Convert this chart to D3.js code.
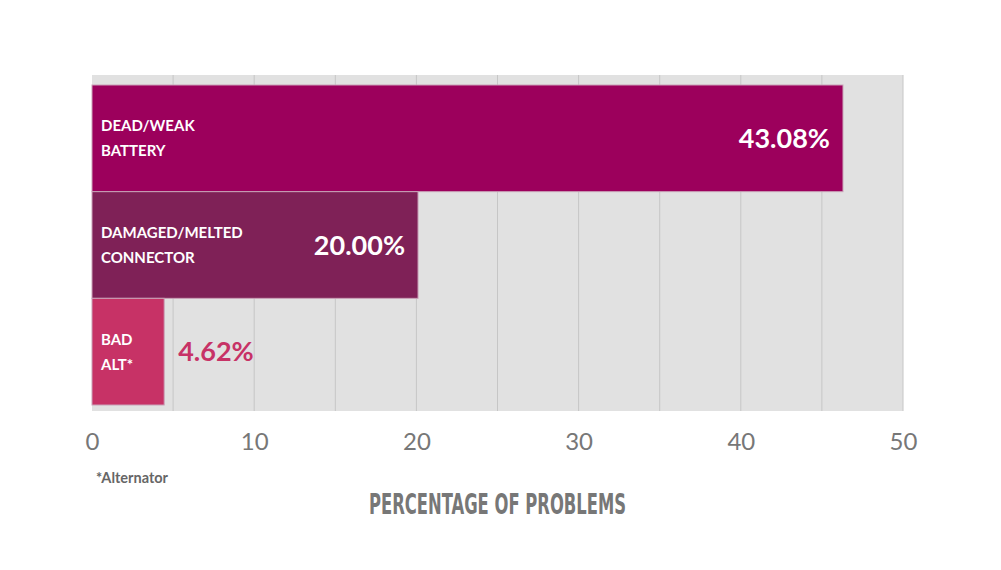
<!DOCTYPE html>
<html>
<head>
<meta charset="utf-8">
<script src="https://cdn.jsdelivr.net/npm/d3@7"></script>
<style>
  body { margin: 0; background: #fff; }
  svg { display: block; }
</style>
</head>
<body>
<div id="chart"></div>
<script>
// data
var categories = [['DEAD/WEAK', 'BATTERY'], ['DAMAGED/MELTED', 'CONNECTOR'], ['BAD', 'ALT*']]
var valueLabels = ['43.08%', '20.00%', '4.62%']
// drawn bar lengths as they sit on the axis
var barLengths = [46.3, 20.1, 4.45]
var barColors = ['#9c005c', '#7f2157', '#c73266']
var tickValues = [0, 10, 20, 30, 40, 50]
var gridValues = [5, 10, 15, 20, 25, 30, 35, 40, 45, 50]

var width = 1001, height = 570

var svg = d3.select('#chart')
  .append('svg')
  .attr('width', width)
  .attr('height', height)

var x = d3.scaleLinear().domain([0, 50]).range([92, 903])
var y = d3.scaleBand().domain(d3.range(categories.length)).range([85, 405]).padding(0)

var plotTop = 75, plotBottom = 411

// gray plot area
svg.append('rect')
  .attr('x', x(0))
  .attr('y', plotTop)
  .attr('width', x(50) - x(0))
  .attr('height', plotBottom - plotTop)
  .style('fill', '#e1e1e1')

// gridlines
svg.selectAll('line.grid')
  .data(gridValues)
  .enter()
  .append('line')
  .attr('class', 'grid')
  .attr('x1', d => x(d))
  .attr('x2', d => x(d))
  .attr('y1', plotTop)
  .attr('y2', plotBottom)
  .style('stroke', '#c6c6c6')
  .style('stroke-width', 1)

// bars
var g = svg.selectAll('g.bar')
  .data(barLengths)
  .enter()
  .append('g')
  .attr('class', 'bar')

g.append('rect')
  .attr('x', x(0))
  .attr('y', (d, i) => y(i))
  .attr('width', d => x(d) - x(0))
  .attr('height', y.bandwidth())
  .style('fill', (d, i) => barColors[i])
  .style('stroke', '#c9a2b8')
  .style('stroke-width', 1)

// category labels, two lines each
g.each(function(d, i) {
  var cy = y(i) + y.bandwidth() / 2
  var t = d3.select(this).append('text')
    .attr('x', 101)
    .style('font-family', 'Lato, sans-serif')
    .style('font-weight', 'bold')
    .style('font-size', '15px')
    .style('fill', '#fff')
  categories[i].forEach((line, k) => {
    t.append('tspan')
      .attr('x', 101)
      .attr('y', cy - 7 + k * 25)
      .text(line)
  })
})

// value labels: inside the bar when it is long, outside otherwise
g.append('text')
  .attr('x', d => d > 10 ? x(d) - 13 : x(d) + 14)
  .attr('y', (d, i) => y(i) + y.bandwidth() / 2 + 9.5)
  .attr('text-anchor', d => d > 10 ? 'end' : 'start')
  .style('font-family', 'Lato, sans-serif')
  .style('font-weight', 'bold')
  .style('font-size', '27px')
  .style('fill', (d, i) => d > 10 ? '#fff' : barColors[i])
  .text((d, i) => valueLabels[i])

// x axis tick labels
var axis = d3.axisBottom(x)
  .tickValues(tickValues)
  .tickSize(0)
  .tickPadding(0)

var ax = svg.append('g')
  .attr('transform', 'translate(0,' + 433 + ')')
  .call(axis)

ax.select('.domain').remove()
ax.selectAll('text')
  .attr('dy', '0.71em')
  .style('font-family', 'Lato, sans-serif')
  .style('font-size', '24px')
  .style('fill', '#777')

// footnote
svg.append('text')
  .attr('x', 96)
  .attr('y', 483)
  .style('font-family', 'Lato, sans-serif')
  .style('font-weight', 'bold')
  .style('font-size', '14.5px')
  .style('fill', '#666')
  .text('*Alternator')

// axis title
svg.append('text')
  .attr('x', 369)
  .attr('y', 514)
  .attr('textLength', 257)
  .attr('lengthAdjust', 'spacingAndGlyphs')
  .style('font-family', '"Liberation Sans Narrow", "DejaVu Sans Condensed", sans-serif')
  .style('font-weight', 'bold')
  .style('font-size', '29px')
  .style('fill', '#777')
  .text('PERCENTAGE OF PROBLEMS')
</script>
</body>
</html>
